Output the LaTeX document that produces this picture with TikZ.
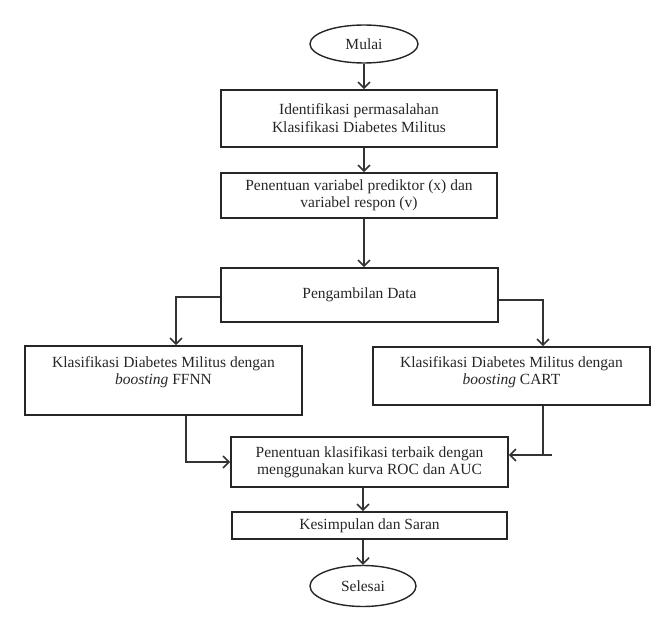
\documentclass[tikz,border=0pt]{standalone}
\usepackage{fontspec}
\setmainfont{Liberation Serif}
\usetikzlibrary{shapes.geometric,arrows.meta}
\begin{document}
\begin{tikzpicture}[x=1bp,y=-1bp,
  every node/.style={font=\fontsize{15.5bp}{16.5bp}\selectfont, text=black!85},
  procbox/.style={draw=black!85, line width=1.7bp, rectangle, inner sep=0pt, align=center},
  term/.style={draw=black!85, line width=1.4bp, ellipse, inner sep=0pt},
  conn/.style={draw=black!80, line width=1.6bp},
  arr/.style={conn, -{Straight Barb[length=6bp,width=12bp]}}
]
\useasboundingbox (0,0) rectangle (672,625);
\node[term, minimum width=108bp, minimum height=38bp] (mulai) at (364,44) {Mulai};
\node[procbox, minimum width=276bp, minimum height=57bp, font=\fontsize{15.5bp}{18bp}\selectfont] (b1) at (359,118.5)
  {Identifikasi permasalahan\\Klasifikasi Diabetes Militus};
\node[procbox, minimum width=276bp, minimum height=45bp] (b2) at (359,195.5)
  {Penentuan variabel prediktor (x) dan\\variabel respon (v)};
\node[procbox, minimum width=277bp, minimum height=54bp] (data) at (359.5,295) {Pengambilan Data};
\node[procbox] (left) at (163.5,380.5)
  {\parbox[c][69bp][t]{277bp}{\centering\vspace*{11bp}Klasifikasi Diabetes Militus dengan\\ \textit{boosting} FFNN}};
\node[procbox] (right) at (511.5,376)
  {\parbox[c][58bp][t]{277bp}{\centering\vspace*{10bp}Klasifikasi Diabetes Militus dengan\\ \textit{boosting} CART}};
\node[procbox, minimum width=277bp, minimum height=50bp] (best) at (369.5,462)
  {Penentuan klasifikasi terbaik dengan\\menggunakan kurva ROC dan AUC};
\node[procbox, minimum width=275bp, minimum height=27bp] (kes) at (369.5,525.5) {Kesimpulan dan Saran};
\node[term, minimum width=106bp, minimum height=41bp] (selesai) at (363,586) {Selesai};

\coordinate (dl) at ([yshift=-2bp]data.west);
\coordinate (dr) at ([yshift=-5bp]data.east);
\coordinate (ln) at ([xshift=12.5bp]left.north);
\coordinate (rn) at ([xshift=31.5bp]right.north);
\coordinate (ls) at ([xshift=22.5bp]left.south);
\coordinate (rs) at ([xshift=31.5bp]right.south);
\coordinate (be) at ([yshift=7bp]best.east);
\coordinate (rc) at (rs |- be);

\draw[arr] (mulai.south) -- (mulai.south |- b1.north);
\draw[arr] (b1.south -| mulai.south) -- (b2.north -| mulai.south);
\draw[arr] (b2.south -| mulai.south) -- (data.north -| mulai.south);
\draw[arr] (dl) -| (ln);
\draw[arr] (dr) -| (rn);
\draw[arr] (ls) |- (best.west);
\draw[arr] (rs) -- (rc) -- (be);
\draw[conn] (rc) -- ++(9,0);
\draw[arr] (best.south -| selesai.north) -- (kes.north -| selesai.north);
\draw[arr] (kes.south -| selesai.north) -- (selesai.north);
\end{tikzpicture}
\end{document}
